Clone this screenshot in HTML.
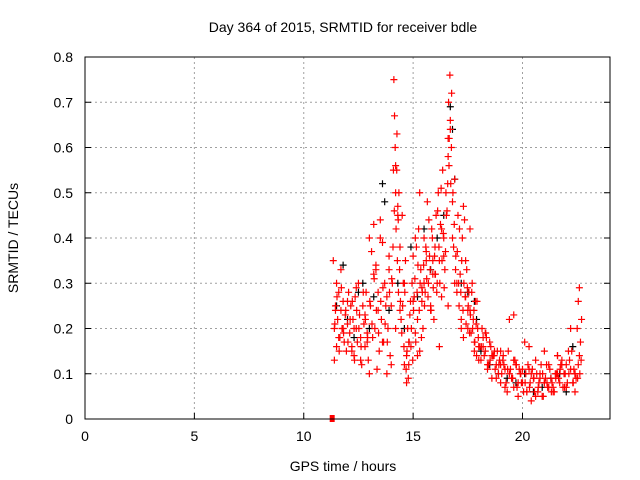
<!DOCTYPE html>
<html><head><meta charset="utf-8"><style>
body{margin:0;background:#fff;}
svg{display:block;font-family:"Liberation Sans",sans-serif;}
</style></head><body>
<svg id="chart" width="640" height="480">
<rect x="0" y="0" width="640" height="480" fill="#fff"/>
<g id="grid"></g>
<g id="ticks"></g>
<g id="points"></g>
<rect x="85" y="57" width="525" height="362" fill="none" stroke="#000" stroke-width="1"/>
<text x="343" y="32" font-size="14" text-anchor="middle">Day 364 of 2015, SRMTID for receiver bdle</text>
<text x="343" y="471" font-size="14" text-anchor="middle">GPS time / hours</text>
<text x="18" y="238" font-size="14" text-anchor="middle" transform="rotate(-90 18 238)">SRMTID / TECUs</text>
</svg>
<script>
const xTicks=[0,5,10,15,20];
const yTicks=[0,0.1,0.2,0.3,0.4,0.5,0.6,0.7,0.8];
const yTickLabels=["0","0.1","0.2","0.3","0.4","0.5","0.6","0.7","0.8"];
const blackTimes=[11.5,11.8,12.0,12.3,12.7,13.0,13.2,13.6,13.9,14.3,14.6,14.9,15.2,15.5,15.8,16.1,16.4,16.7,16.9,17.2,17.5,17.8,18.1,18.5,18.9,19.3,19.7,20.1,20.5,20.9,21.3,21.7,22.0,22.3,13.7,16.8,17.9,12.5];
const blackValues=[0.25,0.34,0.22,0.18,0.3,0.2,0.27,0.52,0.24,0.3,0.2,0.38,0.27,0.42,0.33,0.4,0.45,0.69,0.53,0.3,0.28,0.26,0.15,0.12,0.1,0.09,0.08,0.1,0.06,0.07,0.09,0.1,0.06,0.16,0.48,0.64,0.22,0.28];
const redTimes=[11.35,11.4,11.4,11.45,11.5,11.5,11.55,11.6,11.65,11.7,11.7,11.75,11.8,11.85,11.9,11.95,12.0,12.05,12.1,12.15,12.2,12.25,12.3,12.35,12.4,12.45,12.5,12.55,12.6,12.65,12.7,12.75,12.8,12.85,12.9,12.95,13.0,13.05,13.1,13.15,13.2,13.25,13.3,13.35,13.4,13.45,13.5,13.55,13.6,13.65,13.7,13.75,13.8,13.85,13.9,13.95,14.0,14.05,14.1,14.12,14.15,14.18,14.2,14.22,14.25,14.28,14.3,14.33,14.35,14.4,14.45,14.5,14.55,14.6,14.65,14.7,14.75,14.8,14.85,14.9,14.95,15.0,15.05,15.1,15.15,15.2,15.25,15.3,15.35,15.4,15.45,15.5,15.55,15.6,15.65,15.7,15.75,15.8,15.85,15.9,15.95,16.0,16.05,16.1,16.15,16.2,16.25,16.3,16.35,16.4,16.45,16.5,16.55,16.6,16.62,16.65,16.68,16.7,16.72,16.75,16.8,16.85,16.9,16.95,17.0,17.05,17.1,17.15,17.2,17.25,17.3,17.35,17.4,17.45,17.5,17.55,17.6,17.65,17.7,17.75,17.8,17.85,17.9,17.95,18.0,18.1,18.2,18.3,18.4,18.5,18.6,18.7,18.8,18.9,19.0,19.1,19.2,19.3,19.4,19.5,19.6,19.7,19.8,19.9,20.0,20.1,20.2,20.3,20.4,20.5,20.6,20.7,20.8,20.9,21.0,21.1,21.2,21.3,21.4,21.5,21.6,21.7,21.8,21.9,22.0,22.1,22.2,22.3,22.4,22.5,22.55,22.6,22.65,22.7,11.45,11.6,11.8,12.0,12.2,12.4,12.6,12.8,13.0,13.2,13.4,13.6,13.8,14.0,14.2,14.4,14.6,14.8,15.0,15.2,15.4,15.6,15.8,16.0,16.2,16.4,16.6,16.8,17.0,17.2,17.4,17.6,17.8,18.0,18.2,18.4,18.6,18.8,19.0,19.2,19.4,19.6,19.8,20.0,20.2,20.4,20.6,20.8,21.0,21.2,21.4,21.6,21.8,22.0,22.2,22.4,22.6,18.3,19.0,19.6,20.3,21.0,21.6,22.4,15.3,16.6,17.3];
const redValues=[0.35,0.2,0.13,0.25,0.16,0.3,0.22,0.28,0.18,0.24,0.33,0.2,0.26,0.17,0.23,0.15,0.21,0.28,0.19,0.25,0.16,0.22,0.14,0.27,0.2,0.17,0.3,0.23,0.18,0.12,0.25,0.21,0.16,0.28,0.19,0.13,0.4,0.25,0.37,0.18,0.43,0.2,0.34,0.11,0.28,0.15,0.44,0.22,0.39,0.17,0.3,0.25,0.1,0.2,0.33,0.14,0.25,0.3,0.55,0.75,0.67,0.6,0.5,0.42,0.55,0.35,0.47,0.28,0.5,0.38,0.22,0.45,0.3,0.12,0.35,0.08,0.2,0.12,0.23,0.16,0.3,0.36,0.27,0.19,0.38,0.22,0.42,0.15,0.33,0.26,0.2,0.4,0.28,0.35,0.48,0.3,0.36,0.25,0.42,0.32,0.22,0.38,0.45,0.3,0.5,0.35,0.43,0.27,0.55,0.4,0.33,0.5,0.46,0.58,0.7,0.62,0.76,0.66,0.52,0.6,0.48,0.38,0.53,0.36,0.3,0.45,0.25,0.32,0.22,0.4,0.18,0.44,0.27,0.33,0.2,0.28,0.24,0.19,0.3,0.22,0.17,0.26,0.14,0.2,0.16,0.13,0.18,0.15,0.11,0.17,0.09,0.14,0.12,0.1,0.08,0.13,0.11,0.06,0.22,0.09,0.07,0.12,0.05,0.1,0.08,0.17,0.06,0.11,0.04,0.09,0.13,0.06,0.1,0.05,0.08,0.12,0.07,0.09,0.06,0.1,0.14,0.08,0.12,0.1,0.07,0.15,0.11,0.08,0.06,0.2,0.26,0.29,0.17,0.22,0.24,0.18,0.2,0.26,0.15,0.29,0.13,0.23,0.1,0.32,0.24,0.17,0.27,0.12,0.2,0.24,0.3,0.17,0.26,0.14,0.29,0.37,0.24,0.32,0.16,0.36,0.25,0.4,0.28,0.2,0.35,0.42,0.15,0.13,0.16,0.12,0.14,0.09,0.12,0.07,0.1,0.13,0.08,0.11,0.06,0.1,0.05,0.09,0.08,0.12,0.07,0.1,0.13,0.12,0.2,0.1,0.14,0.19,0.15,0.23,0.16,0.15,0.14,0.1,0.5,0.62,0.47];
const redTimes2=[11.42,11.52,11.62,11.72,11.82,11.92,12.02,12.12,12.22,12.32,12.42,12.52,12.62,12.72,12.82,12.92,13.02,13.12,13.22,13.32,13.42,13.52,13.62,13.72,13.82,13.92,14.02,14.08,14.14,14.2,14.26,14.32,14.38,14.42,14.48,14.52,14.58,14.62,14.68,14.72,14.78,14.82,14.88,14.92,14.98,15.02,15.08,15.12,15.18,15.22,15.28,15.32,15.38,15.42,15.48,15.52,15.58,15.62,15.68,15.72,15.78,15.82,15.88,15.92,15.98,16.02,16.08,16.12,16.18,16.22,16.28,16.32,16.38,16.42,16.48,16.52,16.58,16.64,16.7,16.76,16.82,16.88,16.94,17.02,17.08,17.12,17.18,17.22,17.28,17.32,17.38,17.42,17.48,17.52,17.58,17.62,17.68,17.72,17.78,17.82,17.88,17.92,17.98,18.05,18.15,18.25,18.35,18.45,18.55,18.65,18.75,18.85,18.95,19.05,19.15,19.25,19.35,19.45,19.55,19.65,19.75,19.85,19.95,20.05,20.15,20.25,20.35,20.45,20.55,20.65,20.75,20.85,20.95,21.05,21.15,21.25,21.35,21.45,21.55,21.65,21.75,21.85,21.95,22.05,22.15,22.25,22.35,22.45,22.55,22.62,22.68,18.12,18.32,18.52,18.72,18.92,19.12,19.32,19.52,19.72,19.92,20.12,20.32,20.52,20.72,20.92,21.12,21.32,21.52,21.72,21.92,22.12,22.32,22.52,13.3,13.5,13.9,14.3,14.7,15.1,15.5,15.9,16.3,16.9,17.5,12.3,12.9];
const redValues2=[0.21,0.27,0.15,0.29,0.19,0.24,0.17,0.22,0.26,0.13,0.24,0.2,0.16,0.28,0.22,0.18,0.26,0.21,0.31,0.24,0.19,0.26,0.29,0.21,0.17,0.28,0.31,0.38,0.46,0.56,0.63,0.44,0.33,0.26,0.19,0.25,0.16,0.28,0.11,0.15,0.09,0.17,0.26,0.2,0.13,0.24,0.31,0.17,0.28,0.34,0.24,0.3,0.18,0.28,0.34,0.25,0.38,0.31,0.27,0.44,0.33,0.24,0.4,0.29,0.36,0.32,0.28,0.46,0.38,0.3,0.51,0.35,0.41,0.29,0.37,0.45,0.52,0.56,0.64,0.72,0.5,0.43,0.33,0.37,0.3,0.42,0.28,0.35,0.24,0.3,0.27,0.21,0.29,0.25,0.19,0.23,0.28,0.2,0.24,0.17,0.21,0.26,0.18,0.16,0.2,0.14,0.18,0.12,0.16,0.14,0.11,0.15,0.13,0.1,0.12,0.08,0.15,0.11,0.09,0.13,0.07,0.11,0.08,0.06,0.1,0.12,0.08,0.11,0.06,0.1,0.08,0.12,0.05,0.09,0.07,0.11,0.08,0.06,0.1,0.09,0.12,0.07,0.1,0.08,0.13,0.15,0.11,0.09,0.12,0.1,0.13,0.16,0.19,0.13,0.15,0.12,0.14,0.11,0.09,0.12,0.1,0.08,0.07,0.09,0.07,0.1,0.08,0.06,0.09,0.11,0.07,0.1,0.08,0.09,0.33,0.4,0.36,0.45,0.14,0.4,0.3,0.35,0.42,0.3,0.24,0.2,0.17];
const NS='http://www.w3.org/2000/svg';
const L=85,R=610,T=57,B=419;
function xs(v){return L+(v/24)*(R-L);}
function ys(v){return B-(v/0.8)*(B-T);}
const grid=document.getElementById('grid'),ticks=document.getElementById('ticks'),pts=document.getElementById('points');
function mk(tag,attrs,parent){const e=document.createElementNS(NS,tag);for(const k in attrs)e.setAttribute(k,attrs[k]);parent.appendChild(e);return e;}
xTicks.forEach(t=>{const x=xs(t);
 if(t>0){const g=mk('line',{x1:x,x2:x,y1:T,y2:B,stroke:'#a0a0a0','stroke-dasharray':'2,3'},grid);
 
 }
 const a=mk('line',{x1:x,x2:x,y1:B,y2:B-6,stroke:'#000'},ticks);
 
 
 const tx=mk('text',{x:x,y:B+22,'font-size':14,'text-anchor':'middle'},ticks);tx.textContent=t;
 
 
});
yTicks.forEach((t,i)=>{const y=ys(t);
 if(i>0&&i<yTicks.length-1){const g=mk('line',{x1:L,x2:R,y1:y,y2:y,stroke:'#a0a0a0','stroke-dasharray':'2,3'},grid);
 
 }
 const a=mk('line',{x1:L,x2:L+6,y1:y,y2:y,stroke:'#000'},ticks);
 
 
 const b=mk('line',{x1:R,x2:R-6,y1:y,y2:y,stroke:'#000'},ticks);
 
 
 const tx=mk('text',{x:L-12,y:y+5,'font-size':14,'text-anchor':'end'},ticks);tx.textContent=yTickLabels[i];
 
 
});
function plus(x,y,col,name){const p=mk('path',{d:`M${x-3.5} ${y}H${x+3.5}M${x} ${y-3.5}V${y+3.5}`,stroke:col,'stroke-width':1.2,fill:'none'},pts);
 
 }
blackTimes.forEach((t,i)=>plus(xs(t),ys(blackValues[i]),'#000','black-point'));
redTimes.forEach((t,i)=>plus(xs(t),ys(redValues[i]),'#ff0000','red-point'));
redTimes2.forEach((t,i)=>plus(xs(t),ys(redValues2[i]),'#ff0000','red-point'));
const sq=mk('rect',{x:xs(11.3)-2.5,y:ys(0)-4,width:5,height:7,fill:'#ff0000'},pts);


</script>
</body></html>
